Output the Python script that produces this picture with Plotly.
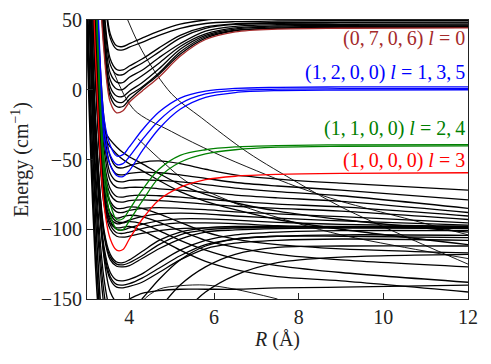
import plotly.graph_objects as go

# Common R grid (Angstrom) for the adiabatic curves
R_grid = [3.0, 3.2, 3.4, 3.55, 3.7, 3.85, 4.0, 4.3, 4.7, 5.2, 5.8, 6.5, 7.5, 9.0, 12.0]

# Black curves below the (0,7,0,6) threshold region (top group)
upper_black = [
    [500, 220, 80, 40, 31.5, 31, 33, 37, 42, 47, 50, 51.3, 51.8, 52, 52],
    [490, 210, 75, 37, 29, 28.6, 30.5, 34, 39, 44, 47.5, 48.8, 49.3, 49.5, 49.5],
    [480, 190, 60, 22, 14.5, 14.2, 17, 22, 30, 39, 45, 47.3, 48.1, 48.4, 48.5],
    [470, 180, 55, 18, 11, 10.8, 14, 19, 27, 37, 44, 46.8, 47.6, 47.9, 48],
    [460, 170, 48, 12, 5.5, 5.2, 9, 14, 23, 33, 42, 45.5, 46.6, 46.9, 47],
    [450, 165, 42, 7, 0.5, 0.3, 4, 10, 19, 31, 40, 44.3, 45.8, 46.2, 46.3],
    [440, 160, 38, 2, -4.5, -4.8, -1, 5, 15, 29, 39, 43.5, 45, 45.5, 45.7],
    [430, 155, 35, -2, -8.5, -8.8, -4, 2, 12, 27, 38, 42.7, 44.4, 45, 45.2],
    [420, 152, 32, -5, -12, -12, -7, 1, 11, 25.5, 37, 42.3, 44, 44.6, 44.8],
]

# Middle black curves
middle_black = [
    [300, 90, -20, -48, -55.5, -56, -54.5, -52, -51, -53, -57, -61, -64, -67, -72],
    [290, 80, -28, -54, -60.5, -61, -60, -59, -59.5, -61, -63.5, -66.5, -69, -72, -79],
    [280, 70, -35, -60, -65.5, -66, -65, -64.5, -65, -66, -68, -70.5, -73, -76, -85],
    [270, 60, -42, -65, -70, -70.5, -70, -70, -71, -72, -73.5, -75.5, -77.5, -80, -88],
    [260, 50, -50, -71, -76.5, -77, -76, -75.5, -76, -77, -78.5, -80, -82, -84, -90.5],
    [250, 45, -55, -75, -80, -80.5, -79.5, -79, -79.5, -80.5, -82, -83.5, -85, -87, -93],
    [240, 35, -62, -82, -87.5, -88, -86.5, -85, -84.5, -85, -86, -87.5, -89, -91, -95.5],
    [230, 25, -70, -89, -94.5, -95, -93.5, -91, -89, -88.5, -89, -90.5, -92, -94, -97],
    [220, 15, -75, -94, -100, -100.5, -99, -96.5, -94, -92.5, -92.5, -93.5, -95, -96.5, -98],
    [215, 10, -78, -97, -102.5, -103, -102, -99.5, -97, -95.5, -95.5, -96, -97.5, -98.5, -99.2],
    [210, 5, -82, -100, -105, -105.7, -105, -103, -101, -99.5, -99, -99, -99, -99, -99.5],
    [400, 100, -28, -36, -41, -45, -48, -53, -60, -68, -75, -81, -87, -93, -102],
    [380, 90, -33, -41, -46, -50, -53, -58, -65, -73, -80, -86, -93, -100, -111],
]

# Lower black curves
lower_black = [
    [180, -20, -100, -118, -123.5, -124, -122, -116, -108, -102, -99, -98, -98, -98, -98],
    [175, -22, -102, -120, -125, -125.5, -124, -119, -111, -104, -100.5, -99, -98.5, -98.2, -98],
    [170, -25, -104, -122, -126.5, -127, -126, -121, -114, -107, -102, -100.5, -99.5, -99, -98.7],
    [160, -35, -112, -131, -136.5, -137, -136, -132, -124, -115, -108, -104, -102, -101, -101],
    [155, -38, -115, -134, -139.5, -140, -139, -135, -128, -119, -111, -107, -105, -104, -104.4],
    [150, -40, -118, -136, -141.5, -142, -141, -138, -131, -122, -114, -110, -108, -107, -108],
    [130, -55, -135, -158, -164, -164, -160, -150, -136, -122, -112, -107, -105, -105, -106],
    [120, -65, -145, -170, -178, -180, -178, -170, -157, -140, -127, -118, -113, -112, -112],
    [110, -75, -155, -180, -190, -193, -192, -188, -178, -162, -145, -133, -124, -120, -118],
    [220, 40, -60, -80, -85, -85, -84, -85, -89, -95, -102, -107, -111, -114, -117],
    [210, 30, -68, -88, -92, -91, -90, -91, -95, -101, -108, -113, -118, -122, -127],
    [200, 20, -74, -92, -96, -95.5, -94.5, -96, -101, -108, -115, -121, -126, -131, -138],
    [190, 15, -78, -96, -99, -98.5, -98, -101, -107, -115, -123, -129, -134, -137, -145],
    [160, -30, -120, -145, -152, -152, -150, -146, -144, -143, -143, -143, -142, -141.5, -140],
]

# Deep wall curves (minima far below the window)
deep_R = [2.9, 3.0, 3.1, 3.2, 3.3, 3.4, 3.5]
deep_black = [
    [320, 80, -20, -90, -145, -190, -220],
    [300, 60, -40, -110, -160, -200, -230],
    [280, 45, -55, -125, -175, -215, -240],
]

# Thin crossing (diabatic-like) curves
thin_R = [
    [3.8, 4.3, 5.0, 5.7, 6.8, 8.0, 9.0, 10.5, 12.0],
    [3.6, 4.1, 5.0, 6.0, 7.0, 8.0, 9.0, 10.5, 12.0],
    [4.2, 4.8, 5.36, 6.0, 6.73, 8.0, 9.0, 10.5, 12.0],
    [4.0, 4.3, 4.7, 5.2, 5.8, 6.5, 7.5],
]
thin_E = [
    [62, 28, -3, -20, -45, -67, -84, -105, -125],
    [15, -14, -30, -45, -58, -70, -80, -92, -104],
    [-35, -52, -66, -75, -84, -96, -104, -113, -121],
    [-175, -152, -143, -140.5, -140, -143, -150],
]

# Coloured channels
brown_E = [400, 145, 28, -9, -16.5, -15, -9, -1, 9, 24, 36, 41.5, 43.5, 44.1, 44.3]
blue_E = [
    [400, 120, -20, -40, -47.5, -46.5, -41, -29, -16, -6, -1, 1, 1.7, 2, 2],
    [390, 110, -28, -47, -53.5, -53, -48, -36, -22, -10, -3, -0.5, 0.4, 0.7, 0.8],
    [380, 100, -35, -54, -61.5, -62.3, -58, -44, -28, -14, -5.5, -2, -0.6, -0.2, 0],
]
green_E = [
    [300, 80, -50, -82, -93, -92.5, -86, -72, -57, -47, -43, -41, -40, -39.5, -39.3],
    [290, 70, -60, -90, -100, -100.3, -94, -80, -63, -52, -46, -43, -41.2, -40.5, -40.2],
]
red_E = [250, 25, -82, -107, -115, -114.5, -107, -93, -79, -70, -64.5, -62, -60.7, -60, -59.5]

labels = [
    "(0,\u20097,\u20090,\u20096) <i>l</i> = 0",
    "(1,\u20092,\u20090,\u20090) <i>l</i> = 1,\u20093,\u20095",
    "(1,\u20091,\u20090,\u20090) <i>l</i> = 2,\u20094",
    "(1,\u20090,\u20090,\u20090) <i>l</i> = 3",
]
label_E = [36.5, 12.5, -27.5, -51]
label_colors = ["#A52A2A", "#0000FF", "#008000", "#FF0000"]

x_ticks = [4, 6, 8, 10, 12]
y_ticks = [-150, -100, -50, 0, 50]

FONT = "Liberation Serif"
FS = 20

fig = go.Figure()


def add(x, y, color, width=1.3):
    fig.add_trace(go.Scatter(
        x=x, y=y, mode="lines",
        line=dict(color=color, width=width, shape="spline", smoothing=0.9),
        hoverinfo="skip", showlegend=False,
    ))


for ys in upper_black + middle_black + lower_black:
    add(R_grid, ys, "black")
for ys in deep_black:
    add(deep_R, ys, "black", 1.6)
for xs, ys in zip(thin_R, thin_E):
    add(xs, ys, "black", 0.9)

add(R_grid, brown_E, label_colors[0])
for ys in blue_E:
    add(R_grid, ys, label_colors[1])
for ys in green_E:
    add(R_grid, ys, label_colors[2])
add(R_grid, red_E, label_colors[3])

for txt, ye, col in zip(labels, label_E, label_colors):
    fig.add_annotation(
        x=1.0, xref="paper", y=ye, yref="y", text=txt, showarrow=False,
        xanchor="right", yanchor="middle", xshift=-1,
        font=dict(family=FONT, size=FS, color=col),
    )

axis_common = dict(
    showline=True, mirror=True, linecolor="#222", linewidth=1,
    ticks="inside", ticklen=6, tickwidth=1, tickcolor="#222",
    showgrid=False, zeroline=False, automargin=False,
    tickfont=dict(family=FONT, size=FS, color="#222"),
)

fig.update_layout(
    width=491, height=364,
    margin=dict(l=79, r=31, t=12, b=73),
    paper_bgcolor="white", plot_bgcolor="white",
    xaxis=dict(range=[3, 12], tickvals=x_ticks,
               title=dict(text="<i>R</i> (Å)", font=dict(family=FONT, size=FS, color="#222"), standoff=4),
               **axis_common),
    yaxis=dict(range=[-150, 50], tickvals=y_ticks,
               title=dict(text="Energy (cm<sup>\u22121</sup>)", font=dict(family=FONT, size=FS, color="#222"), standoff=8),
               **axis_common),
)

fig.write_html("out.html")
